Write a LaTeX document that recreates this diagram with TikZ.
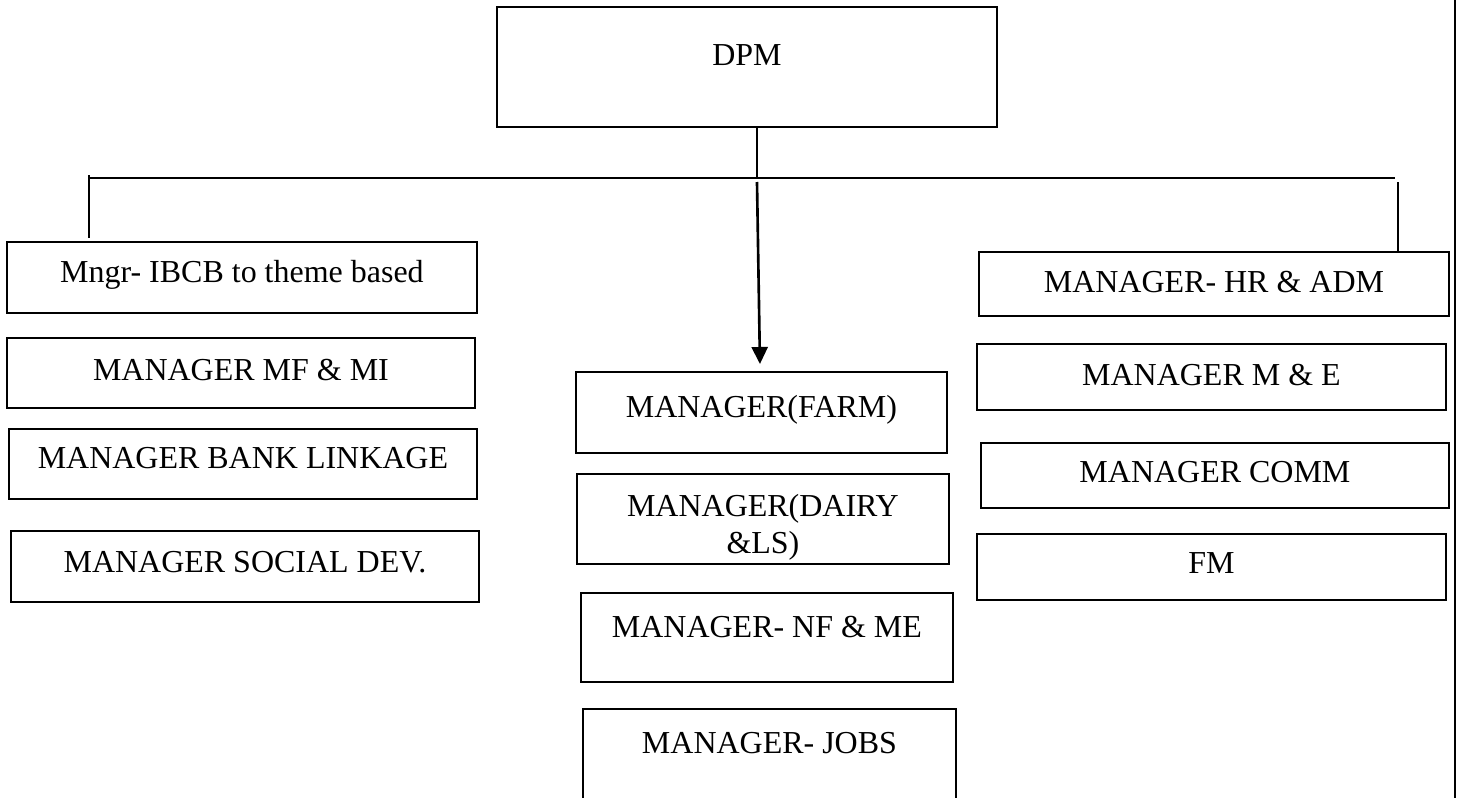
\documentclass[tikz,border=0pt]{standalone}
\usepackage{fontspec}
\setmainfont{Liberation Serif}
\usetikzlibrary{arrows.meta}

\begin{document}
\begin{tikzpicture}[x=0.02cm, y=-0.02cm,
  every node/.style={font=\fontsize{18.2pt}{21.6pt}\selectfont},
  mgr/.style={draw, line width=1.3pt, anchor=north west, inner sep=0pt, outer sep=0pt, align=center},
  conn/.style={line width=0.75pt},
  arr/.style={line width=1.5pt, -{Triangle[length=0.34cm,width=0.32cm]}}]
\clip (0,0) rectangle (1458,798);

\node[mgr, line width=1.6pt, minimum width=10cm, text height=1.18cm, text depth=1.22cm] (dpm) at (497,7) {DPM};

\node[mgr, minimum width=9.40cm, text height=0.82cm, text depth=0.60cm] (ibcb) at (7,242) {Mngr- IBCB to theme based};
\node[mgr, minimum width=9.36cm, text height=0.86cm, text depth=0.54cm] (mfmi) at (7,338) {MANAGER MF \& MI};
\node[mgr, minimum width=9.36cm, text height=0.80cm, text depth=0.60cm] (bank) at (9,429) {MANAGER BANK LINKAGE};
\node[mgr, minimum width=9.36cm, text height=0.84cm, text depth=0.58cm] (social) at (11,531) {MANAGER SOCIAL DEV.};

\node[mgr, minimum width=7.42cm, text height=0.92cm, text depth=0.70cm] (farm) at (576,372) {MANAGER(FARM)};
\node[mgr, minimum width=7.44cm, text height=1.60cm, text depth=0.20cm] (dairy) at (577,474) {MANAGER(DAIRY\\\&LS)};
\node[mgr, minimum width=7.44cm, text height=0.90cm, text depth=0.88cm] (nfme) at (581,593) {MANAGER- NF \& ME};
\node[mgr, minimum width=7.46cm, text height=0.90cm, text depth=1.20cm] (jobs) at (583,709) {MANAGER- JOBS};

\node[mgr, minimum width=9.40cm, text height=0.82cm, text depth=0.46cm] (hradm) at (979,252) {MANAGER- HR \& ADM};
\node[mgr, minimum width=9.38cm, text height=0.84cm, text depth=0.48cm] (me) at (977,344) {MANAGER M \& E};
\node[mgr, minimum width=9.36cm, text height=0.80cm, text depth=0.50cm] (comm) at (981,443) {MANAGER COMM};
\node[mgr, minimum width=9.38cm, text height=0.80cm, text depth=0.52cm] (fm) at (977,534) {FM};

\coordinate (busL) at (89,178);
\coordinate (busR) at (1395,178);
\coordinate (split) at (757,182);
\coordinate (hrtop) at (1398,182);

\draw[conn] ([xshift=0.2cm]dpm.south) -- ([xshift=0.2cm]dpm.south |- busL);
\draw[conn] (busL) -- (busR);
\draw[conn] ([yshift=0.06cm]busL) -- ([yshift=0.08cm]busL |- ibcb.north);
\draw[conn] (hrtop) -- (hrtop |- hradm.north);
\draw[arr] (split) -- ([xshift=-0.03cm,yshift=0.16cm]farm.north);

\draw[line width=1.5pt] (1455,0) -- (1455,798);
\end{tikzpicture}
\end{document}
